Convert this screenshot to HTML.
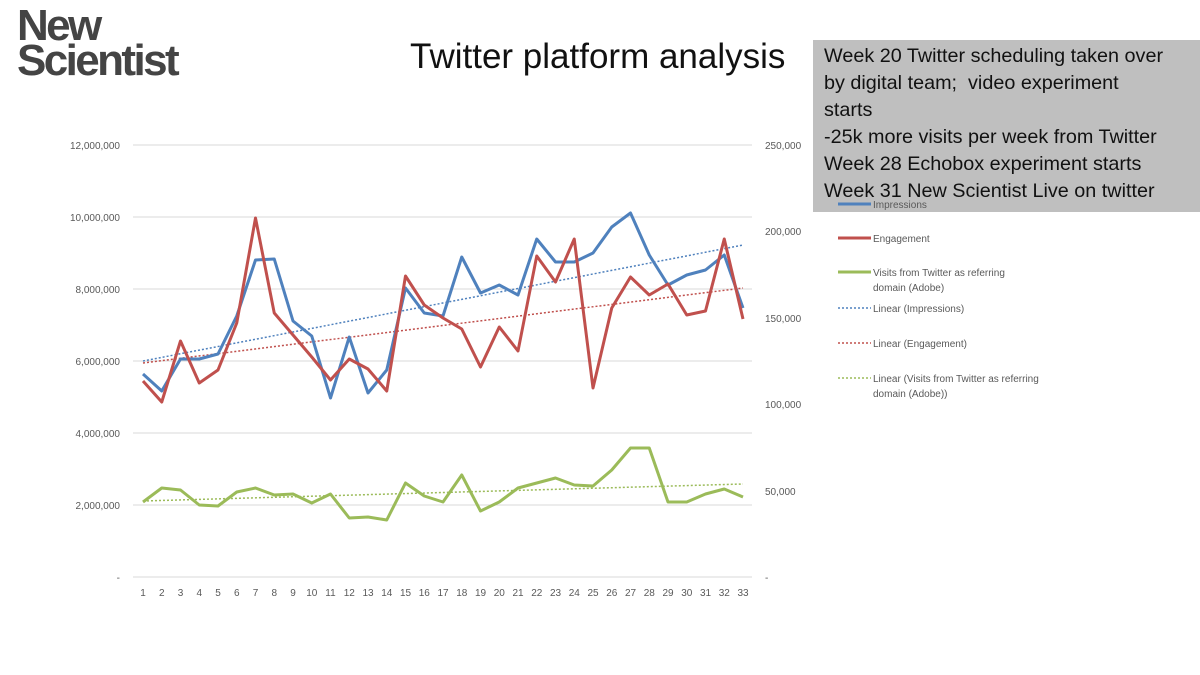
<!DOCTYPE html>
<html><head><meta charset="utf-8"><style>
body{margin:0;width:1200px;height:675px;background:#fff;overflow:hidden;position:relative;font-family:"Liberation Sans",sans-serif}
.logo{position:absolute;left:17px;top:8px;font-weight:bold;font-size:44px;line-height:35px;color:#444;letter-spacing:-2.6px}
.title{position:absolute;left:410px;top:37px;font-size:35px;color:#111;white-space:nowrap}
.box{position:absolute;left:813px;top:40px;width:387px;height:172px;background:#bfbfbf;font-size:19.8px;line-height:27px;color:#111;padding:3px 0 0 11px;box-sizing:border-box;white-space:nowrap}
</style></head><body>
<div class="logo">New<br>Scientist</div>
<div class="title">Twitter platform analysis</div>
<svg width="1200" height="675" style="position:absolute;left:0;top:0">
<g stroke="#d9d9d9" stroke-width="1">
<line x1="133" x2="752" y1="145" y2="145"/><line x1="133" x2="752" y1="217" y2="217"/><line x1="133" x2="752" y1="289" y2="289"/><line x1="133" x2="752" y1="361" y2="361"/><line x1="133" x2="752" y1="433" y2="433"/><line x1="133" x2="752" y1="505" y2="505"/><line x1="133" x2="752" y1="577" y2="577"/>
</g>
<g font-size="10" fill="#595959" text-anchor="end">
<text x="120" y="149">12,000,000</text><text x="120" y="221">10,000,000</text><text x="120" y="293">8,000,000</text><text x="120" y="365">6,000,000</text><text x="120" y="437">4,000,000</text><text x="120" y="509">2,000,000</text><text x="120" y="581">-</text>
</g>
<g font-size="10" fill="#595959">
<text x="765" y="149">250,000</text><text x="765" y="235">200,000</text><text x="765" y="322">150,000</text><text x="765" y="408">100,000</text><text x="765" y="495">50,000</text><text x="765" y="581">-</text>
</g>
<g font-size="10" fill="#595959" text-anchor="middle" id="xl"></g>
<g stroke-dasharray="2,2" stroke-width="1.5">
<line x1="143" y1="361" x2="743" y2="245" stroke="#4f81bd"/>
<line x1="143" y1="363" x2="743" y2="288" stroke="#c0504d"/>
<line x1="143" y1="501" x2="743" y2="484" stroke="#9bbb59"/>
</g>
<polyline id="g" fill="none" stroke="#9bbb59" stroke-width="3" stroke-linejoin="round"/>
<polyline id="b" fill="none" stroke="#4f81bd" stroke-width="3" stroke-linejoin="round"/>
<polyline id="r" fill="none" stroke="#c0504d" stroke-width="3" stroke-linejoin="round"/>
<g font-size="10" fill="#595959">
<line x1="838" x2="871" y1="238" y2="238" stroke="#c0504d" stroke-width="3"/><text x="873" y="242">Engagement</text>
<line x1="838" x2="871" y1="272" y2="272" stroke="#9bbb59" stroke-width="3"/><text x="873" y="276">Visits from Twitter as referring</text><text x="873" y="291">domain (Adobe)</text>
<line x1="838" x2="871" y1="308" y2="308" stroke="#4f81bd" stroke-width="1.5" stroke-dasharray="2,2"/><text x="873" y="312">Linear (Impressions)</text>
<line x1="838" x2="871" y1="343" y2="343" stroke="#c0504d" stroke-width="1.5" stroke-dasharray="2,2"/><text x="873" y="347">Linear (Engagement)</text>
<line x1="838" x2="871" y1="378" y2="378" stroke="#9bbb59" stroke-width="1.5" stroke-dasharray="2,2"/><text x="873" y="382">Linear (Visits from Twitter as referring</text><text x="873" y="397">domain (Adobe))</text>
</g>
</svg>
<div class="box">Week 20 Twitter scheduling taken over<br>by digital team;&nbsp; video experiment<br>starts<br>-25k more visits per week from Twitter<br>Week 28 Echobox experiment starts<br>Week 31 New Scientist Live on twitter</div>
<svg width="1200" height="675" style="position:absolute;left:0;top:0"><line x1="838" x2="871" y1="204" y2="204" stroke="#4f81bd" stroke-width="3"/><text x="873" y="208" font-size="10" fill="#595959" font-family="Liberation Sans">Impressions</text></svg>
<script>
var B=[374,391,359,359,354,316,260,259,321,336,398,337,393,370,288,313,316,257,293,285,295,239,262,262,253,227,213,255,285,275,270,255,308];
var R=[381,402,341,383,370,323,218,313,335,357,380,359,369,391,276,305,318,329,367,327,351,256,282,239,388,308,277,295,284,315,311,239,319];
var G=[502,488,490,505,506,492,488,495,494,503,494,518,517,520,483,496,502,475,511,502,488,483,478,485,486,470,448,448,502,502,494,489,497];
function p(a){return a.map(function(y,i){return (143+i*18.75)+","+y}).join(" ")}
document.getElementById("b").setAttribute("points",p(B));
document.getElementById("r").setAttribute("points",p(R));
document.getElementById("g").setAttribute("points",p(G));
var s="";for(var i=1;i<=33;i++)s+='<text x="'+(143+(i-1)*18.75)+'" y="596">'+i+'</text>';
document.getElementById("xl").innerHTML=s;
</script>
</body></html>
